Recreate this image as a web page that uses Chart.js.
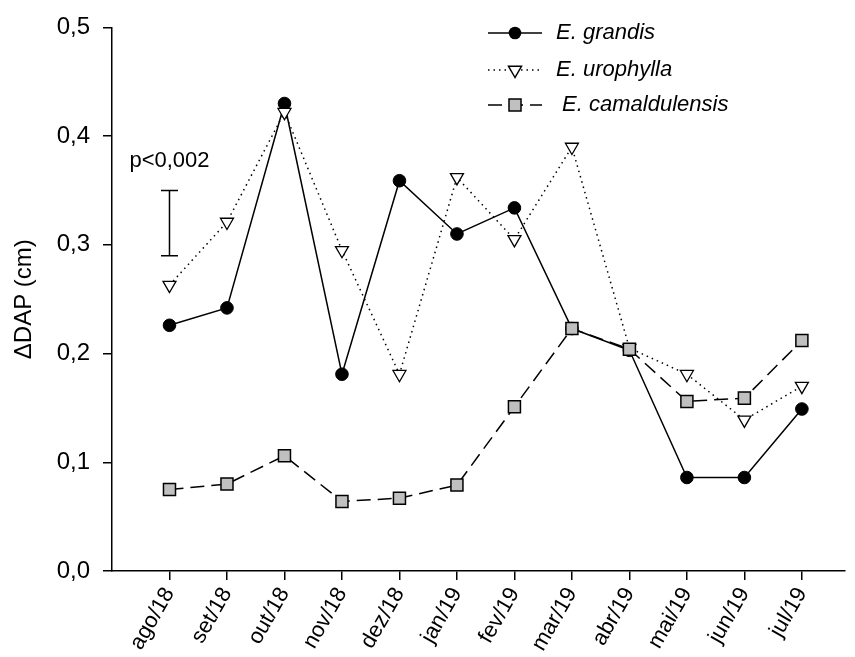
<!DOCTYPE html>
<html>
<head>
<meta charset="utf-8">
<script src="https://cdn.jsdelivr.net/npm/chart.js@4.4.1/dist/chart.umd.min.js"></script>
<style>
  html, body { margin: 0; padding: 0; background: #fff; }
  #wrap { width: 855px; height: 657px; position: relative; }
</style>
</head>
<body>
<div id="wrap"><canvas id="c" width="855" height="657"></canvas></div>
<script>
// ---- data ----
const categories = ['ago/18','set/18','out/18','nov/18','dez/18','jan/19','fev/19','mar/19','abr/19','mai/19','jun/19','jul/19'];
const grandis      = [0.226, 0.242, 0.430, 0.181, 0.359, 0.310, 0.334, 0.223, 0.203, 0.086, 0.086, 0.149];
const urophylla    = [0.263, 0.321, 0.422, 0.295, 0.181, 0.362, 0.305, 0.390, 0.205, 0.181, 0.139, 0.170];
const camaldulensis= [0.075, 0.080, 0.106, 0.064, 0.067, 0.079, 0.151, 0.223, 0.204, 0.156, 0.159, 0.212];
const yTickLabels  = ['0,0','0,1','0,2','0,3','0,4','0,5'];
const seriesNames  = ['E. grandis','E. urophylla',' E. camaldulensis'];
const errorBar     = { category: 0, low: 0.29, high: 0.35 };
const pText        = 'p<0,002';

const FONT = "'Liberation Sans', Arial, sans-serif";

function pts(arr) { return arr.map((v, i) => ({ x: i, y: v })); }

const legendPlugin = {
  id: 'customLegend',
  afterDraw(chart) {
    const ctx = chart.ctx;
    const rows = [
      { y: 33, dash: [], style: 'circle' },
      { y: 70, dash: [1.5, 4], style: 'tri' },
      { y: 105, dash: [14, 7], style: 'rect' }
    ];
    ctx.save();
    rows.forEach((r, i) => {
      const x0 = 488, x1 = 542, xm = 515;
      ctx.strokeStyle = '#000';
      ctx.lineWidth = 1.5;
      ctx.setLineDash(r.dash);
      ctx.beginPath();
      ctx.moveTo(x0, r.y); ctx.lineTo(x1, r.y);
      ctx.stroke();
      ctx.setLineDash([]);
      ctx.beginPath();
      if (r.style === 'circle') {
        ctx.fillStyle = '#000';
        ctx.arc(xm, r.y, 6.3, 0, Math.PI * 2);
        ctx.fill();
      } else if (r.style === 'tri') {
        const rr = 7.5;
        ctx.fillStyle = '#fff';
        ctx.moveTo(xm, r.y + rr);
        ctx.lineTo(xm - rr * 0.866, r.y - rr / 2);
        ctx.lineTo(xm + rr * 0.866, r.y - rr / 2);
        ctx.closePath();
        ctx.fill(); ctx.stroke();
      } else {
        ctx.fillStyle = '#c0c0c0';
        ctx.rect(xm - 6, r.y - 6, 12, 12);
        ctx.fill(); ctx.stroke();
      }
      ctx.fillStyle = '#000';
      ctx.font = 'italic 22px ' + FONT;
      ctx.textAlign = 'left';
      ctx.textBaseline = 'middle';
      ctx.fillText(seriesNames[i], 556, r.y);
    });
    // p-value text above the error bar
    const xs = chart.scales.x, ys = chart.scales.y;
    ctx.font = '22px ' + FONT;
    ctx.textAlign = 'center';
    ctx.textBaseline = 'middle';
    ctx.fillText(pText, xs.getPixelForValue(errorBar.category), ys.getPixelForValue(errorBar.high) - 30);
    ctx.restore();
  }
};

new Chart(document.getElementById('c'), {
  type: 'line',
  data: {
    datasets: [
      {
        label: seriesNames[0], data: pts(grandis), order: 3,
        borderColor: '#000', borderWidth: 1.5, backgroundColor: '#000',
        pointStyle: 'circle', pointRadius: 6.3, pointBackgroundColor: '#000', pointBorderColor: '#000', pointBorderWidth: 1
      },
      {
        label: seriesNames[1], data: pts(urophylla), order: 2,
        borderColor: '#000', borderWidth: 1.5, borderDash: [1.5, 4],
        pointStyle: 'triangle', pointRotation: 180, pointRadius: 7.5,
        pointBackgroundColor: '#fff', pointBorderColor: '#000', pointBorderWidth: 1.3
      },
      {
        label: seriesNames[2], data: pts(camaldulensis), order: 1,
        borderColor: '#000', borderWidth: 1.5, borderDash: [14, 7],
        pointStyle: 'rect', pointRadius: 8.5,
        pointBackgroundColor: '#c0c0c0', pointBorderColor: '#000', pointBorderWidth: 1.5
      },
      {
        label: 'errorbar', data: [{ x: errorBar.category, y: errorBar.low }, { x: errorBar.category, y: errorBar.high }], order: 0,
        borderColor: '#000', borderWidth: 1.5,
        pointStyle: 'line', pointRadius: 8.5, pointBorderColor: '#000', pointBorderWidth: 1.5
      }
    ]
  },
  options: {
    responsive: false,
    animation: false,
    events: [],
    layout: { padding: { top: 26, right: 3, left: 0, bottom: 0 } },
    plugins: { legend: { display: false }, tooltip: { enabled: false } },
    scales: {
      x: {
        type: 'linear',
        min: -1, max: 11.75,
        afterBuildTicks: (scale) => { scale.ticks = categories.map((_, i) => ({ value: i })); },
        afterFit: (scale) => { scale.height = 86; },
        grid: { drawOnChartArea: false, drawTicks: true, tickLength: 9, color: '#000', lineWidth: 1.5 },
        border: { display: true, color: '#000', width: 1.5 },
        ticks: {
          autoSkip: false, minRotation: 60, maxRotation: 60, padding: 3,
          color: '#000', font: { family: FONT, size: 22 },
          callback: (v) => categories[v]
        }
      },
      y: {
        type: 'linear',
        min: 0, max: 0.5,
        afterFit: (scale) => { scale.width = 112; },
        afterBuildTicks: (scale) => { scale.ticks = yTickLabels.map((_, i) => ({ value: i / 10 })); },
        grid: { drawOnChartArea: false, drawTicks: true, tickLength: 9, color: '#000', lineWidth: 1.5 },
        border: { display: true, color: '#000', width: 1.5 },
        ticks: {
          padding: 13, color: '#000', font: { family: FONT, size: 24 },
          callback: (v) => yTickLabels[Math.round(v * 10)]
        },
        title: {
          display: true, text: '\u0394DAP (cm)', color: '#000',
          font: { family: FONT, size: 24 }, padding: { top: 10, bottom: 0 }
        }
      }
    }
  },
  plugins: [legendPlugin]
});
</script>
</body>
</html>
